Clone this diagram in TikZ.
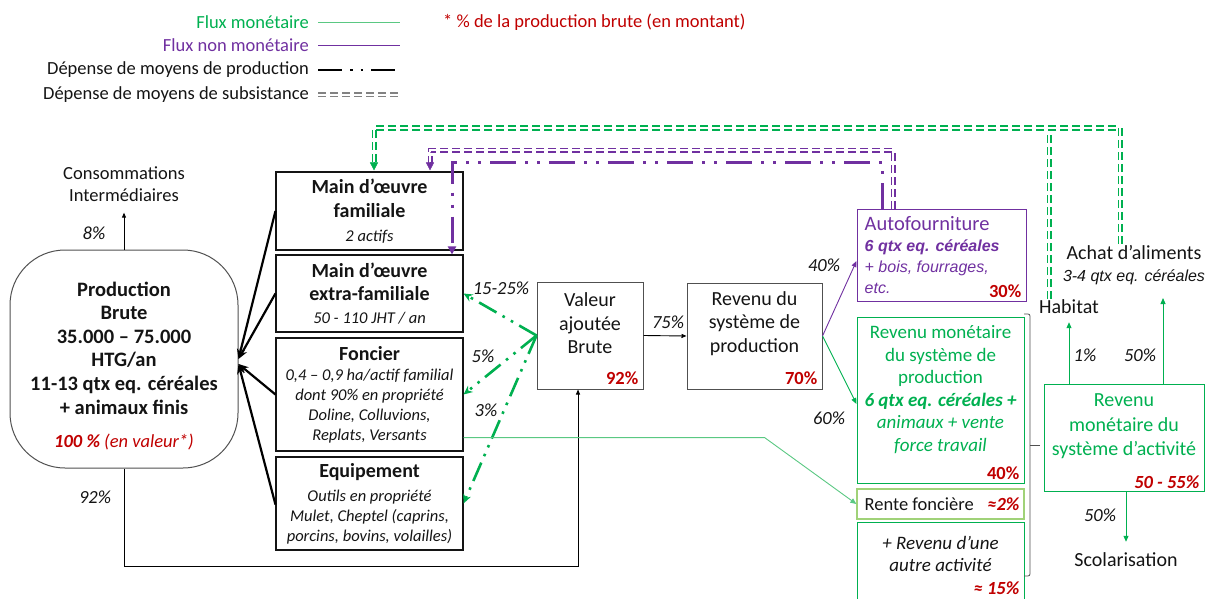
\documentclass[tikz,border=0pt]{standalone}
\usepackage{fontspec}
\setmainfont{Carlito}
\newfontfamily\arialfont{Liberation Sans}
\usepackage{xcolor}
\definecolor{leaf}{RGB}{0,176,80}
\definecolor{mint}{RGB}{90,200,130}
\definecolor{sage}{RGB}{160,210,120}
\definecolor{plum}{RGB}{112,48,160}
\definecolor{brick}{RGB}{192,0,0}
\definecolor{slate}{RGB}{80,80,80}
\definecolor{ink}{RGB}{20,20,20}
\definecolor{ash}{RGB}{130,130,130}
\usepackage{tikz}
\usetikzlibrary{arrows.meta,positioning,calc}
\newcommand\fsleg{\fontsize{18.5}{22}\selectfont}
\newcommand\fsbody{\fontsize{20}{23.5}\selectfont}
\newcommand\fstitle{\fontsize{20}{23.5}\selectfont\bfseries\upshape}
\newcommand\fsital{\fontsize{16.5}{20}\selectfont\itshape}
\newcommand\fspct{\fontsize{18.5}{22}\selectfont}
\tikzset{
  %% boxes and texts
  cell/.style={draw=ink, line width=1.1pt, inner sep=2pt, align=center, text=ink, font=\fsital},
  frame/.style={draw=slate, line width=1pt, inner sep=0pt},
  boxtxt/.style={font=\fsbody, align=center, text=ink, inner sep=0pt},
  pcttag/.style={font=\fspct\bfseries, text=brick, inner sep=1pt, anchor=south east},
  lbl/.style={font=\fspct\itshape, text=ink, inner sep=1pt},
  legtxt/.style={anchor=east, font=\fsleg, text=ink, inner sep=0pt},
  %% connectors
  feed/.style={draw=black, line width=2.2pt, -{Stealth[length=10pt,width=8pt]}},
  plain/.style={draw=black, line width=0.9pt, -{Triangle[length=5pt,width=4pt]}},
  cashflow/.style={draw=leaf, line width=0.9pt, -{Triangle[length=6pt,width=5pt]}},
  kindflow/.style={draw=plum, line width=0.9pt, -{Triangle[length=6pt,width=5pt]}},
  prodspend/.style={line width=2.6pt, dash pattern=on 20pt off 7pt on 2.6pt off 7pt on 2.6pt off 7pt},
  subspend/.style={line width=1.6pt, double=white, double distance=1.8pt, dash pattern=on 8pt off 4pt},
  tipg/.style={-{Triangle[length=8pt,width=8pt]}},
}

\begin{document}
\begin{tikzpicture}[x=1pt,y=-1pt]
\useasboundingbox (0,0) rectangle (1209,599);

%% legend
\node[legtxt, text=leaf] (legcash) at (309,22) {Flux monétaire};
\node[legtxt, text=plum] (legkind) at (309,45) {Flux non monétaire};
\node[legtxt] (legprod) at (309,70) {Dépense de moyens de production};
\node[legtxt] (legsub) at (309,95) {Dépense de moyens de subsistance};
\draw[mint, line width=0.9pt] ([xshift=9pt]legcash.east) -- ++(82,0);
\draw[plum, line width=0.9pt] ([xshift=9pt]legkind.east) -- ++(82,0);
\draw[black, prodspend, dash pattern=on 24pt off 8pt on 2.6pt off 8pt on 2.6pt off 8pt] ([xshift=9pt]legprod.east) -- ++(82,0);
\draw[ash, subspend] ([xshift=9pt]legsub.east) -- ++(82,0);
\node[anchor=west, font=\fsleg, text=brick, inner sep=0pt] (note) at (443,22) {* \% de la production brute (en montant)};

%% production brute
\node[frame, rounded corners=55pt, minimum width=228pt, minimum height=218pt] (prod) at (124,359) {};
\node[font={\fontsize{20.5}{23.6}\selectfont\bfseries}, align=center, text=ink, inner sep=0pt] (prodtxt) at (124,366)
  {Production\\Brute\\35.000 – 75.000\\HTG/an\\11-13 qtx eq. céréales\\+ animaux finis\\[10pt]
   {\color{brick}\fspct\itshape 100 \% {\mdseries(en valeur*)}}};
\node[font=\fsleg, align=center, text=ink, inner sep=2pt] (ci) at (124,184) {Consommations\\Intermédiaires};
\draw[plain] (prod.north) -- ([yshift=-9pt]ci.south);
\node[lbl] (pci) at (94,233) {8\%};

%% facteurs de production
\node[cell, minimum width=187pt, minimum height=78pt] (mof) at (369.5,211)
  {{\fstitle Main d’œuvre}\\[3.5pt]{\fstitle familiale}\\[4pt]2 actifs};
\node[cell, minimum width=187pt, minimum height=77pt] (moe) at (369.5,293.5)
  {{\fstitle Main d’œuvre}\\[3.5pt]{\fstitle extra-familiale}\\[3pt]50 - 110 JHT / an};
\node[cell, minimum width=187pt, minimum height=113pt] (fon) at (369.5,394.5)
  {{\fstitle Foncier}\\0,4 – 0,9 ha/actif familial\\dont 90\% en propriété\\Doline, Colluvions,\\Replats, Versants};
\node[cell, minimum width=187pt, minimum height=93pt] (equ) at (369.5,503.5)
  {{\fstitle Equipement}\\[4pt]Outils en propriété\\Mulet, Cheptel (caprins,\\porcins, bovins, volailles)};
\draw[feed] (mof.west) -- (prod.east);
\draw[feed] (moe.west) -- (prod.east);
\draw[feed] (fon.west) -- ([yshift=-5pt]prod.east);
\draw[feed] ([yshift=-1pt]equ.west) -- ([yshift=-5pt]prod.east);

%% valeur ajoutee, revenu
\node[frame, minimum width=106pt, minimum height=107pt] (vab) at (590,335.5) {};
\node[boxtxt] (vabtxt) at (590,323.5) {Valeur\\ajoutée\\Brute};
\node[pcttag] (vabpct) at ([xshift=-4pt,yshift=4pt]vab.south east) {92\%};
\node[frame, minimum width=135pt, minimum height=106pt] (rsp) at (754.5,336) {};
\node[boxtxt] (rsptxt) at (754.5,323.5) {Revenu du\\système de\\production};
\node[pcttag] (rsppct) at ([xshift=-4pt,yshift=4pt]rsp.south east) {70\%};
\draw[plain] (vab.east) -- (rsp.west);
\node[lbl] (p75) at (668,322) {75\%};
\draw[plain] (prod.south) -- ++(0,98) -| ([xshift=-12pt]vab.south);
\node[lbl] (p92) at (95,497) {92\%};

\draw[leaf, prodspend, -{Stealth[length=9pt,width=8pt]}] (vab.west) -- (moe.east);
\draw[leaf, prodspend, -{Stealth[length=9pt,width=8pt]}] (vab.west) -- (fon.east);
\draw[leaf, prodspend, -{Stealth[length=9pt,width=8pt]}] (vab.west) -- (equ.east);
\node[lbl] (p1525) at (501,288) {15-25\%};
\node[lbl] (p5) at (483,356) {5\%};
\node[lbl] (p3) at (486,410) {3\%};

%% repartition du revenu
\node[frame, draw=plum, minimum width=169pt, minimum height=92pt] (autof) at (941.5,255) {};
\node[anchor=north west, align=left, text=plum, inner sep=0pt, font={\arialfont\fontsize{16}{21}\selectfont\itshape}] (autoftxt)
  at ([xshift=8pt,yshift=-8pt]autof.north west)
  {{\normalfont\fontsize{20.5}{24}\selectfont Autofourniture}\\{\bfseries 6 qtx eq. céréales}\\+ bois, fourrages,\\etc.};
\node[pcttag] (autofpct) at ([xshift=-4pt,yshift=3pt]autof.south east) {30\%};

\node[frame, draw=leaf, minimum width=167pt, minimum height=166pt] (rmp) at (940.5,400) {};
\node[boxtxt, font={\fontsize{19}{22.6}\selectfont}, text=leaf] (rmptxt) at (940.5,389.5)
  {Revenu monétaire\\du système de\\production\\{\bfseries\itshape 6 qtx eq. céréales +}\\{\itshape animaux + vente}\\{\itshape force travail}};
\node[pcttag] (rmppct) at ([xshift=-4pt,yshift=3pt]rmp.south east) {40\%};

\draw[kindflow] (rsp.east) -- ([yshift=-6pt]autof.west);
\draw[cashflow] (rsp.east) -- ([yshift=-4pt]rmp.west);
\node[lbl] (p40) at (824,265) {40\%};
\node[lbl] (p60) at (829,418) {60\%};

\node[frame, draw=sage, line width=1.3pt, minimum width=167pt, minimum height=30pt] (rente) at (940.5,504) {};
\node[anchor=west, font=\fspct, text=ink, inner sep=0pt] (rentetxt) at ([xshift=8pt]rente.west) {Rente foncière};
\node[anchor=east, font=\fspct\bfseries\itshape, text=brick, inner sep=0pt] (rentepct) at ([xshift=-5pt]rente.east) {≈2\%};
\draw[cashflow, draw=mint] ([yshift=14pt]fon.south east) -- ++(301,0) -- (rente.west);

\node[frame, draw=leaf, minimum width=167pt, minimum height=78pt] (autre) at (940.5,561) {};
\node[boxtxt, font={\fontsize{19}{22}\selectfont\itshape}] (autretxt) at (940.5,554) {+ Revenu d’une\\autre activité};
\node[pcttag, font=\fspct\bfseries\itshape] (autrepct) at ([xshift=-4pt,yshift=5pt]autre.south east) {≈ 15\%};

\draw[slate, line width=0.8pt, rounded corners=2pt] (1024,314) -- (1030,314) -- (1030,576) -- (1024,576);
\draw[slate, line width=0.8pt] (1030,445) -- (1040,445);

\node[frame, draw=leaf, minimum width=160pt, minimum height=107pt] (rma) at (1124,437.5) {};
\node[boxtxt, font={\fontsize{20}{24.5}\selectfont}, text=leaf] (rmatxt) at (1124,426.5) {Revenu\\monétaire du\\système d’activité};
\node[pcttag, font=\fspct\bfseries\itshape] (rmapct) at ([xshift=-4pt,yshift=2pt]rma.south east) {50 - 55\%};

\node[font=\fsbody, text=ink, inner sep=1pt] (hab) at (1069,307) {Habitat};
\node[font=\fsbody, align=center, text=ink, inner sep=1pt] (achat) at (1134,265)
  {Achat d’aliments\\[-1.5pt]{\arialfont\fontsize{16}{19}\selectfont\itshape 3-4 qtx eq. céréales}};
\node[font=\fsbody, text=ink, inner sep=1pt] (scol) at (1126,560) {Scolarisation};
\coordinate (achatin) at (1163,298);
\draw[cashflow] ([xshift=-55pt]rma.north) -- ([yshift=-7pt]hab.south);
\draw[cashflow] (rma.north -| achatin) -- (achatin);
\draw[cashflow] (rma.south -| scol.north) -- ([yshift=10pt]scol.north);
\node[lbl] (p1) at (1085,355) {1\%};
\node[lbl] (p50a) at (1140,355) {50\%};
\node[lbl] (p50b) at (1100,515) {50\%};

%% retours vers la main d'oeuvre
\coordinate (railg) at (374,128);
\coordinate (railp) at (430,150);
\coordinate (raild) at (452,162);
\draw[leaf, subspend, shorten >=7pt] ([xshift=-14pt]achat.north) |- (railg) -- ([xshift=4.5pt]mof.north);
\draw[leaf, subspend] ([xshift=-20pt]hab.north) -- ++(0,-165);
\draw[leaf, tipg] ([xshift=4.5pt,yshift=9pt]mof.north) -- ([xshift=4.5pt,yshift=1pt]mof.north);
\draw[plum, subspend, shorten >=7pt] ([xshift=-48.5pt]autof.north) |- (railp) -- ([xshift=60.5pt]mof.north);
\draw[plum, tipg] ([xshift=60.5pt,yshift=9pt]mof.north) -- ([xshift=60.5pt,yshift=1pt]mof.north);
\draw[plum, prodspend, line width=3pt, dash pattern=on 26pt off 9pt on 3pt off 9pt on 3pt off 9pt, tipg]
  ([xshift=-59.5pt]autof.north) |- (raild) -- ([xshift=82.5pt]moe.north);
\end{tikzpicture}
\end{document}
